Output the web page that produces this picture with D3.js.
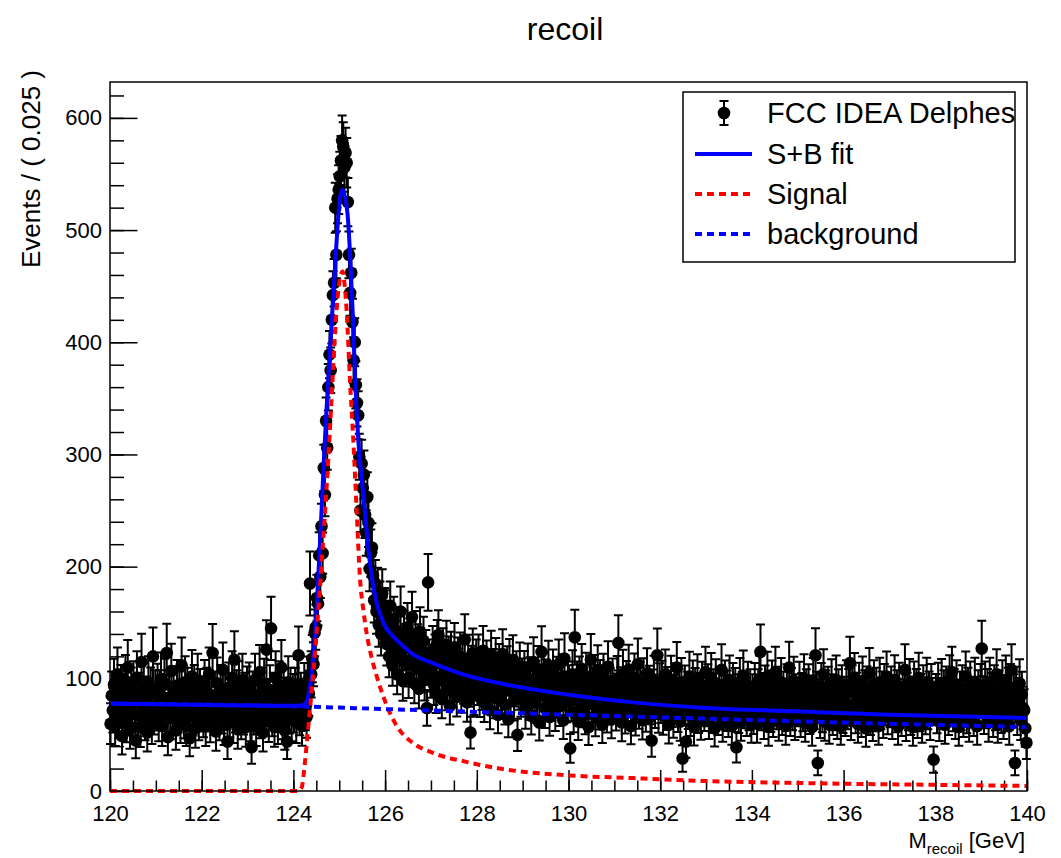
<!DOCTYPE html>
<html lang="en">
  <head>
    <meta charset="UTF-8" />
    <title>recoil</title>
    <script src="https://cdn.jsdelivr.net/npm/d3@7/dist/d3.min.js"></script>
    <style>
      body { margin: 0; background: #fff; }
      text { font-family: "Liberation Sans", Arial, Helvetica, sans-serif; }
    </style>
  </head>
  <body>
    <div id="wrapper"></div>
    <script>
      // binned data: events per 0.025 GeV, 120 -> 140 GeV (one row per GeV)
      const binWidth = 0.025;
      const xRange = [120, 140];
      const counts = [
        60,85,72,95,58,80,104,66,77,90,49,83,71,98,62,110,75,55,88,69,93,79,45,101,68,84,57,115,73,92,64,81,52,97,76,88,60,120,70,86,
        74,91,63,86,100,58,79,95,68,123,48,82,71,107,65,89,77,54,94,72,85,61,112,79,66,97,58,88,74,47,83,102,69,90,56,78,99,64,87,73,
        81,67,94,58,88,73,104,62,79,123,70,85,53,96,76,64,90,71,108,59,83,75,44,92,67,80,101,61,117,72,86,55,93,78,65,99,70,84,57,89,
        77,92,63,39,85,70,99,58,81,74,106,66,88,52,95,71,126,79,62,90,145,68,84,57,101,73,60,93,76,110,65,87,54,80,44,97,71,88,63,83,
        72,88,61,95,121,69,84,58,79,92,74,66,98,87,185,104,118,113,141,146,172,167,210,191,236,212,288,264,330,306,360,389,375,420,442,453,520,478,528,536,
        548,562,580,574,556,569,560,525,478,444,462,418,384,400,362,346,335,298,250,292,270,282,246,230,262,239,198,212,217,192,170,185,160,178,148,166,140,176,152,160,
        158,131,149,120,165,138,112,152,127,143,104,136,121,160,118,98,140,129,112,146,101,133,117,155,124,96,139,110,128,91,142,118,107,134,99,123,74,186,115,102,
        108,126,95,119,87,131,139,102,115,82,124,98,111,130,90,117,76,121,105,93,128,99,84,116,107,120,88,112,97,135,101,79,118,94,52,109,123,86,103,114,
        96,118,84,107,91,125,79,102,113,88,99,72,121,94,106,83,115,90,68,110,97,86,122,101,77,93,108,64,114,89,99,117,81,95,104,50,92,111,85,98,
        88,104,73,95,110,82,99,67,91,115,79,96,86,108,61,93,124,85,102,74,97,89,112,66,94,81,105,90,71,99,84,113,76,92,101,63,118,87,80,95,
        92,38,81,104,70,137,88,95,62,99,84,109,75,91,68,102,86,57,94,117,79,90,100,66,87,108,73,96,82,59,101,85,92,70,111,78,89,64,97,83,
        85,72,99,132,78,90,61,104,83,69,95,76,108,87,58,92,80,101,67,89,113,74,94,82,63,97,86,71,105,79,91,66,45,88,99,75,84,121,70,93,
        80,95,68,86,104,73,90,59,82,99,76,65,93,84,110,71,88,62,97,29,79,91,44,86,74,102,67,83,95,57,89,76,100,70,85,63,94,81,72,106,
        77,92,64,85,101,70,88,56,96,79,68,90,74,108,61,83,95,72,87,66,99,80,58,93,76,89,39,84,70,97,62,86,103,75,81,67,94,73,88,60,
        84,69,93,77,60,88,99,124,73,85,64,91,79,102,57,87,71,95,66,83,106,74,90,62,81,97,68,86,76,58,92,80,110,67,89,73,98,63,84,77,
        79,94,66,85,72,100,61,88,76,92,69,83,57,97,74,121,86,25,80,65,93,71,104,62,87,77,90,59,84,96,68,81,73,99,64,88,75,58,91,70,
        82,67,95,74,88,114,63,91,77,101,70,85,60,93,79,66,98,73,87,56,90,76,105,68,84,62,95,72,89,80,58,97,74,86,65,92,78,102,69,83,
        76,90,64,83,99,71,87,58,93,75,67,89,80,108,62,85,73,96,68,82,57,94,77,88,65,101,72,84,60,91,79,69,97,74,86,63,92,81,28,78,
        84,70,93,62,81,96,74,87,59,90,77,68,99,83,106,72,88,64,95,79,57,86,73,91,66,84,102,70,89,61,94,76,82,67,97,74,58,87,79,92,
        127,82,69,94,75,88,61,97,78,85,66,91,73,104,60,87,80,70,95,64,83,99,72,89,58,92,108,76,84,25,90,68,81,96,63,86,74,72,56,43,
      ];

      // fitted curves
      const sbX = [120, 124.0, 124.2, 124.28, 124.34, 124.4, 124.45, 124.5, 124.56, 124.62, 124.67, 124.73, 124.8, 124.87, 124.93, 124.98, 125.03, 125.075, 125.12, 125.19, 125.24, 125.3, 125.35, 125.42, 125.5, 125.58, 125.65, 125.72, 125.82, 125.96, 126.17, 126.32, 126.6, 127.04, 127.7, 128.5, 129.97, 131.4, 133.0, 135, 137, 140];
      const sbY = [78, 76, 76.5, 79, 88, 105, 128, 158, 205, 255, 300, 345, 395, 440, 482, 512, 532, 536, 530, 510, 475, 420, 365, 310, 275, 240, 210, 188, 167, 150, 138, 132, 122, 114, 104, 96, 86, 79, 74, 71, 68, 65];
      const sigX = [120, 124.1, 124.18, 124.25, 124.32, 124.4, 124.48, 124.56, 124.63, 124.7, 124.76, 124.82, 124.89, 124.96, 125.02, 125.075, 125.12, 125.16, 125.23, 125.31, 125.38, 125.45, 125.53, 125.6, 125.7, 125.82, 126.0, 126.17, 126.32, 126.6, 127.04, 127.77, 128.5, 129.97, 131.4, 132.9, 134.5, 136, 138, 140];
      const sigY = [0, 0, 3, 25, 55, 90, 128, 170, 212, 255, 295, 340, 395, 438, 458, 463, 450, 429, 369, 310, 250, 191, 160, 140, 120, 102, 80, 64, 54, 43, 34, 26, 20, 14, 11.5, 9, 7.5, 6.5, 5.5, 4.5];
      const bkgX = [120, 124, 126, 128, 130, 133, 136, 140];
      const bkgY = [78, 75.5, 73, 70.5, 68, 64.5, 61, 57];

      const xTicks = d3.range(120, 141, 2);
      const yTicks = [0, 100, 200, 300, 400, 500, 600];
      const legendLabels = ["FCC IDEA Delphes", "S+B fit", "Signal", "background"];

      const dimensions = {
        width: 1061,
        height: 858,
        margin: { left: 110, right: 34, top: 82, bottom: 67 },
      };
      dimensions.boundedWidth = dimensions.width - dimensions.margin.left - dimensions.margin.right;
      dimensions.boundedHeight = dimensions.height - dimensions.margin.top - dimensions.margin.bottom;

      const svg = d3.select("#wrapper").append("svg")
        .attr("width", dimensions.width)
        .attr("height", dimensions.height);

      const bounds = svg.append("g")
        .attr("transform", `translate(${dimensions.margin.left},${dimensions.margin.top})`);

      const xScale = d3.scaleLinear().domain(xRange).range([0, dimensions.boundedWidth]);
      const yScale = d3.scaleLinear().domain([0, 632]).range([dimensions.boundedHeight, 0]);

      // axes (ticks inside the frame, ROOT style)
      const xAxisG = bounds.append("g").attr("transform", `translate(0,${dimensions.boundedHeight})`);
      xAxisG.append("g").call(d3.axisBottom(xScale).tickValues(d3.range(120, 140.01, 0.5)).tickSize(-10.5).tickFormat(""));
      xAxisG.append("g").call(d3.axisBottom(xScale).tickValues(xTicks).tickSize(-21).tickPadding(14).tickFormat(d3.format("d")));
      const yAxisG = bounds.append("g");
      yAxisG.append("g").call(d3.axisLeft(yScale).tickValues(d3.range(0, 632, 20)).tickSize(-14).tickFormat(""));
      yAxisG.append("g").call(d3.axisLeft(yScale).tickValues(yTicks).tickSize(-27.5).tickPadding(8));
      bounds.selectAll(".domain").remove();
      bounds.selectAll(".tick line").attr("stroke", "#000").attr("stroke-width", 1.5);
      bounds.selectAll(".tick text").attr("font-size", 22).attr("fill", "#000")
        .attr("font-family", '"Liberation Sans", Arial, sans-serif');

      // data points with error bars
      const sbAt = d3.scaleLinear().domain(sbX).range(sbY);
      const bkgAt = d3.scaleLinear().domain(bkgX).range(bkgY);
      const points = counts.map((v, i) => {
        const x = xRange[0] + (i + 0.5) * binWidth;
        const frac = Math.min(1, bkgAt(x) / sbAt(x));
        const err = Math.sqrt(5.5 * v * frac + 0.1 * v * (1 - frac));
        return { x, v, err };
      });

      const pts = bounds.append("g");
      pts.selectAll("path")
        .data(points)
        .join("path")
        .attr("d", (d) => {
          const cx = xScale(d.x), y0 = yScale(d.v - d.err), y1 = yScale(d.v + d.err);
          return `M${cx},${y0}V${y1}M${cx - 4.5},${y0}H${cx + 4.5}M${cx - 4.5},${y1}H${cx + 4.5}`;
        })
        .attr("stroke", "#000")
        .attr("stroke-width", 2)
        .attr("fill", "none");
      pts.selectAll("circle")
        .data(points)
        .join("circle")
        .attr("cx", (d) => xScale(d.x))
        .attr("cy", (d) => yScale(d.v))
        .attr("r", 6.3)
        .attr("fill", "#000");

      // fit curves
      const curveLine = (xs, ys) =>
        d3.line().x((d) => xScale(d)).y((d, i) => yScale(ys[i])).curve(d3.curveMonotoneX)(xs);

      bounds.append("path").attr("d", curveLine(sbX, sbY))
        .attr("fill", "none").attr("stroke", "#0000ff").attr("stroke-width", 4);
      bounds.append("path").attr("d", curveLine(sigX, sigY))
        .attr("fill", "none").attr("stroke", "#ff0000").attr("stroke-width", 4).attr("stroke-dasharray", "7,5");
      bounds.append("path").attr("d", curveLine(bkgX, bkgY))
        .attr("fill", "none").attr("stroke", "#0000ff").attr("stroke-width", 4).attr("stroke-dasharray", "7,5");

      // frame
      bounds.append("rect")
        .attr("width", dimensions.boundedWidth)
        .attr("height", dimensions.boundedHeight)
        .attr("fill", "none")
        .attr("stroke", "#000")
        .attr("stroke-width", 1.5);

      // title and axis titles
      svg.append("text").attr("x", 565).attr("y", 40).attr("text-anchor", "middle")
        .attr("font-size", 32).text("recoil");
      svg.append("text")
        .attr("transform", `translate(40,${dimensions.margin.top - 12}) rotate(-90)`)
        .attr("text-anchor", "end").attr("font-size", 26)
        .text("Events / ( 0.025 )");
      const xt = svg.append("text").attr("x", 1025).attr("y", 848).attr("text-anchor", "end").attr("font-size", 22);
      xt.append("tspan").text("M");
      xt.append("tspan").attr("font-size", 15).attr("dy", 6).text("recoil");
      xt.append("tspan").attr("dy", -6).text(" [GeV]");

      // legend
      const legend = svg.append("g");
      legend.append("rect").attr("x", 683).attr("y", 92).attr("width", 332).attr("height", 170)
        .attr("fill", "#fff").attr("stroke", "#000").attr("stroke-width", 1.5);
      const rowY = [113, 154, 194, 234];
      legend.selectAll("text.lab")
        .data(legendLabels)
        .join("text")
        .attr("class", "lab")
        .attr("x", 767)
        .attr("y", (d, i) => rowY[i] + 10)
        .attr("font-size", 29)
        .text((d) => d);
      legend.append("path")
        .attr("d", `M724,${rowY[0] - 12}V${rowY[0] + 12}M719.5,${rowY[0] - 12}H728.5M719.5,${rowY[0] + 12}H728.5`)
        .attr("stroke", "#000").attr("stroke-width", 2);
      legend.append("circle").attr("cx", 724).attr("cy", rowY[0]).attr("r", 6.3).attr("fill", "#000");
      legend.append("line").attr("x1", 695).attr("x2", 752).attr("y1", rowY[1]).attr("y2", rowY[1])
        .attr("stroke", "#0000ff").attr("stroke-width", 4);
      legend.append("line").attr("x1", 695).attr("x2", 752).attr("y1", rowY[2]).attr("y2", rowY[2])
        .attr("stroke", "#ff0000").attr("stroke-width", 4).attr("stroke-dasharray", "7,5");
      legend.append("line").attr("x1", 695).attr("x2", 752).attr("y1", rowY[3]).attr("y2", rowY[3])
        .attr("stroke", "#0000ff").attr("stroke-width", 4).attr("stroke-dasharray", "7,5");
    </script>
  </body>
</html>
